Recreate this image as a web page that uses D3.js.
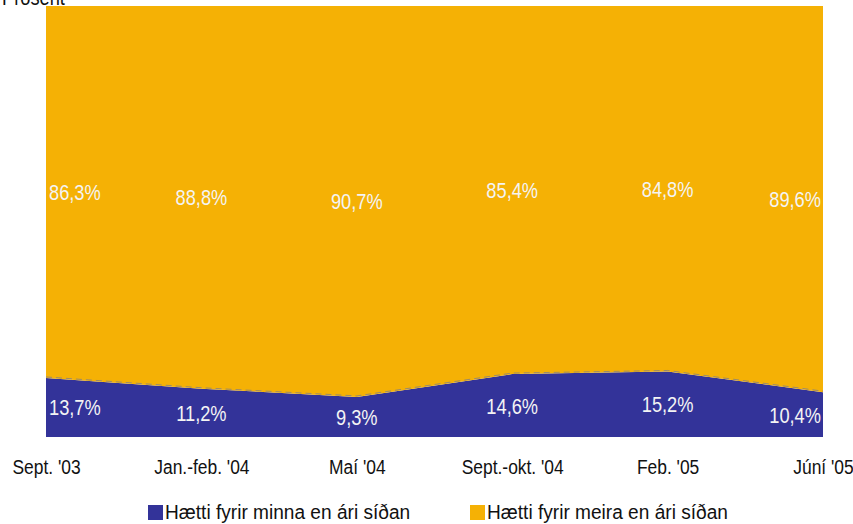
<!DOCTYPE html>
<html>
<head>
<meta charset="utf-8">
<script src="https://cdn.jsdelivr.net/npm/d3@7"></script>
<style>
  body { margin: 0; background: #fff; }
  svg text { font-family: "Liberation Sans", Arial, sans-serif; }
</style>
</head>
<body>
<div id="chart"></div>
<script>
var categories = ["Sept. '03", "Jan.-feb. '04", "Maí '04", "Sept.-okt. '04", "Feb. '05", "Júní '05"];
var minna = [13.7, 11.2, 9.3, 14.6, 15.2, 10.4];
var meira = [86.3, 88.8, 90.7, 85.4, 84.8, 89.6];
var seriesNames = ["Hætti fyrir minna en ári síðan", "Hætti fyrir meira en ári síðan"];
var colors = ["#333399", "#F5B105"];

var narrow = 0.83; // squeeze text, no narrow font installed

var margin = {top: 6, right: 30, left: 46, bottom: 87},
    width = 853 - margin.left - margin.right,
    height = 524 - margin.top - margin.bottom;

var svg = d3.select("div#chart").append("svg")
    .attr("width", 853)
    .attr("height", 524);

var g = svg.append("g")
    .attr("transform", "translate(" + margin.left + "," + margin.top + ")");

var x = d3.scalePoint()
    .domain(categories)
    .range([0, width]);

var y = d3.scaleLinear()
    .domain([0, 100])
    .range([height, 0]);

var table = categories.map(function(c, i) {
  return {cat: c, minna: minna[i], meira: meira[i]};
});

var layers = d3.stack().keys(["minna", "meira"])(table);

var area = d3.area()
    .x(function(d) { return x(d.data.cat); })
    .y0(function(d) { return y(d[0]); })
    .y1(function(d) { return y(d[1]); });

g.selectAll("path.layer")
  .data(layers)
  .enter().append("path")
    .attr("class", "layer")
    .attr("fill", function(d, i) { return colors[i]; })
    .attr("d", area);

// boundary line between the two layers
g.append("path")
    .datum(layers[0])
    .attr("fill", "none")
    .attr("stroke", "#9a8a6a")
    .attr("stroke-width", 1)
    .attr("stroke-dasharray", "6,4")
    .attr("d", d3.line()
      .x(function(d) { return x(d.data.cat); })
      .y(function(d) { return y(d[1]) - 1; }));

// value labels
var last = categories.length - 1;
layers.forEach(function(layer) {
  g.selectAll(null)
    .data(layer)
    .enter().append("text")
      .attr("transform", function(d, i) {
        var px = x(d.data.cat);
        if (i === 0) px += 3;
        if (i === last) px -= 2;
        var py = (y(d[0]) + y(d[1])) / 2 + 8;
        return "translate(" + px + "," + py + ") scale(" + narrow + ",1)";
      })
      .attr("text-anchor", function(d, i) { return i === 0 ? "start" : (i === last ? "end" : "middle"); })
      .attr("fill", "#f4f4f4")
      .attr("font-size", "22px")
      .text(function(d) { return d3.format(".1f")(d[1] - d[0]).replace(".", ",") + "%"; });
});

// x axis
var xAxis = d3.axisBottom(x).tickSize(0).tickPadding(0);
var xg = g.append("g")
    .attr("transform", "translate(0," + height + ")")
    .call(xAxis);
xg.select(".domain").remove();
xg.selectAll("text")
    .attr("dy", 0)
    .attr("y", 0)
    .attr("transform", "translate(0,37) scale(" + narrow + ",1)")
    .attr("fill", "#111")
    .attr("font-size", "21px");

// y axis title, cut at the top
svg.append("text")
    .attr("transform", "translate(2,5) scale(" + narrow + ",1)")
    .attr("fill", "#111")
    .attr("font-size", "22px")
    .text("Prósent");

// legend
var legendX = [148, 470];
var legend = svg.selectAll("g.legend")
  .data(seriesNames)
  .enter().append("g")
    .attr("class", "legend")
    .attr("transform", function(d, i) { return "translate(" + legendX[i] + ",505)"; });

legend.append("rect")
    .attr("width", 15)
    .attr("height", 15)
    .attr("fill", function(d, i) { return colors[i]; });

legend.append("text")
    .attr("transform", "translate(17,14) scale(0.91,1)")
    .attr("fill", "#111")
    .attr("font-size", "21px")
    .text(function(d) { return d; });
</script>
</body>
</html>
